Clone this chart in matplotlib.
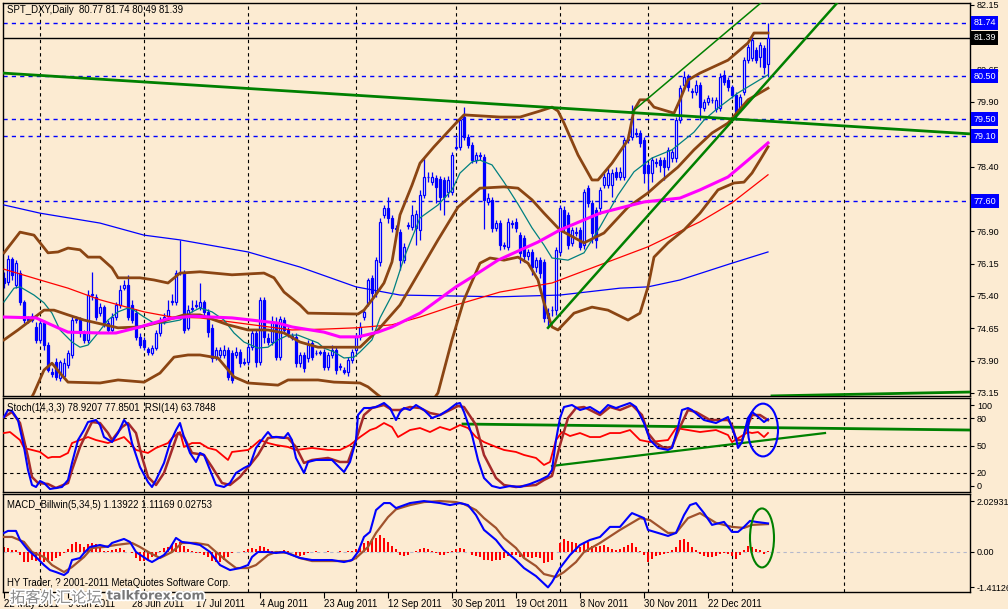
import matplotlib
matplotlib.use('Agg')
import matplotlib.pyplot as plt
import numpy as np
from matplotlib.patches import Ellipse
from matplotlib.transforms import blended_transform_factory
import matplotlib.patheffects as pe

plt.rcParams['font.family'] = ['Liberation Sans', 'DejaVu Sans']

# ---------------- DATA ----------------
opens = [75.82,75.73,76.26,75.66,75.94,75.26,74.87,74.85,74.68,74.38,
         74.78,74.27,73.64,73.87,73.50,73.55,73.80,74.03,74.85,74.85,
         74.54,74.38,75.43,75.38,75.01,75.15,74.78,74.61,74.92,75.19,
         75.59,75.66,75.19,75.01,74.45,74.38,74.17,74.08,74.20,74.54,
         74.80,74.94,75.26,75.26,75.94,75.94,74.66,75.10,75.17,75.15,
         75.26,75.03,74.66,73.99,74.03,74.03,74.15,74.08,74.03,74.10,
         73.87,73.87,74.22,74.54,73.87,75.31,74.43,74.34,74.78,73.99,
         74.85,74.61,74.48,74.45,73.85,74.03,73.96,74.31,74.08,74.10,
         74.10,73.76,74.03,74.15,73.76,73.69,73.64,73.92,74.15,74.45,
         74.92,75.24,75.82,75.47,76.19,77.28,77.44,77.21,76.98,76.89,
         76.24,77.03,77.00,76.98,76.93,77.75,78.16,78.05,78.14,78.12,
         78.09,77.82,77.82,78.84,78.86,79.56,79.09,78.91,78.56,78.67,
         78.63,77.58,77.63,76.98,77.10,76.59,76.54,77.10,77.12,76.82,
         76.75,76.33,76.42,76.08,76.24,76.19,74.89,75.08,75.08,76.42,
         77.40,77.28,76.63,76.86,76.93,76.59,77.91,77.56,77.40,77.44,
         77.98,77.98,77.98,78.28,78.16,78.16,79.02,79.09,79.18,79.18,
         79.02,78.44,78.26,78.51,78.56,78.56,78.40,78.60,78.60,79.49,
         80.30,80.48,80.14,80.14,80.30,79.76,79.90,79.95,79.74,79.76,
         80.53,80.41,80.25,80.07,79.76,80.14,80.88,80.92,81.11,80.94,
         81.16,80.77]
closes = [75.70,76.26,75.89,76.17,75.26,74.85,74.84,74.94,74.38,74.78,
          74.27,73.69,73.59,73.52,73.87,73.85,74.08,74.85,74.87,74.54,
          74.38,75.43,75.45,74.92,75.15,74.78,74.61,74.92,75.19,75.54,
          75.66,74.92,74.85,74.45,74.27,74.22,74.10,74.20,74.54,74.85,
          74.92,75.08,75.28,75.94,75.96,74.61,75.08,75.12,75.19,75.26,
          75.03,74.57,73.96,74.15,74.15,74.15,73.52,73.45,74.10,73.85,
          73.85,74.22,74.54,73.87,75.31,74.45,74.34,74.80,73.99,74.87,
          74.61,74.54,74.43,73.85,74.03,73.73,74.27,73.99,74.08,74.08,
          73.76,74.03,74.15,73.69,73.76,73.64,73.92,74.10,74.45,74.68,
          75.03,75.77,75.47,76.24,77.12,77.44,77.21,76.98,76.96,76.24,
          76.54,77.05,77.28,77.31,77.75,78.16,78.16,78.16,77.93,77.70,
          77.70,78.09,78.67,78.86,79.49,79.09,78.91,78.56,78.67,78.65,
          77.63,77.68,76.98,77.10,76.59,76.56,77.12,77.07,76.98,76.40,
          76.33,76.42,76.08,76.24,75.94,74.89,75.01,75.08,76.47,77.44,
          76.98,76.59,76.93,76.89,76.54,77.82,77.56,76.86,76.70,77.86,
          78.16,78.26,78.26,78.16,78.28,79.02,79.05,79.56,79.16,78.95,
          78.26,78.26,78.56,78.49,78.44,78.40,78.79,78.74,79.49,80.23,
          80.48,80.25,80.14,80.30,79.79,79.90,80.00,79.95,79.95,80.48,
          80.37,80.25,80.07,79.67,80.02,80.88,81.18,81.34,80.88,81.22,
          80.71,81.39]
highs = [75.96,76.35,76.31,76.24,76.01,75.31,74.94,75.01,74.80,74.85,
         74.85,74.34,73.73,73.96,73.92,73.96,74.15,74.94,74.94,74.92,
         74.61,75.54,75.96,75.45,75.24,75.19,74.85,75.01,75.26,75.66,
         75.77,75.89,75.31,75.10,74.54,74.45,74.22,74.27,74.61,74.92,
         75.01,75.31,75.45,76.01,76.70,76.01,75.19,75.31,75.31,75.70,
         75.31,75.10,74.75,74.22,74.22,74.27,74.22,74.15,74.22,74.17,
         73.96,74.31,74.61,74.61,75.38,75.38,74.54,74.94,74.92,74.94,
         74.92,74.68,74.54,74.54,74.10,74.10,74.38,74.38,74.15,74.15,
         74.17,74.10,74.27,74.22,73.85,73.76,73.99,74.17,74.54,74.80,
         75.10,75.82,75.89,76.31,77.21,77.52,77.70,77.28,77.05,76.96,
         76.63,77.12,77.52,77.40,77.86,78.60,78.28,78.28,78.21,78.19,
         78.16,78.19,78.74,79.09,79.56,79.79,79.16,78.98,78.74,78.74,
         78.70,77.79,77.70,77.17,77.17,76.66,77.21,77.17,77.21,76.89,
         76.82,76.49,76.49,76.31,76.31,76.26,75.12,75.17,76.54,77.52,
         77.49,77.35,77.00,77.00,77.00,77.89,77.98,77.63,77.47,77.93,
         78.26,78.40,78.35,78.40,78.40,79.09,79.16,79.83,79.30,79.25,
         79.09,78.51,78.63,78.60,78.63,78.63,78.86,78.81,79.56,80.30,
         80.62,80.55,80.23,80.41,80.37,79.98,80.07,80.02,80.02,80.58,
         80.65,80.48,80.30,80.14,80.09,80.95,81.25,81.41,81.18,81.29,
         81.22,81.74]
lows = [75.59,75.66,75.77,75.59,75.19,74.78,74.78,74.80,74.31,74.31,
        74.15,73.64,73.52,73.45,73.43,73.50,73.73,73.96,74.78,74.45,
        74.31,74.31,75.31,74.85,74.94,74.68,74.54,74.54,74.85,75.12,
        75.54,74.85,74.78,74.38,74.20,74.15,74.03,74.03,74.15,74.48,
        74.75,74.87,75.19,75.19,75.89,74.54,74.61,75.03,75.12,75.08,
        74.94,74.45,73.87,73.92,73.96,73.96,73.45,73.38,73.96,73.76,
        73.80,73.80,74.15,73.76,73.80,74.31,74.27,74.27,73.92,73.92,
        74.54,74.45,74.38,73.76,73.76,73.64,73.87,73.92,74.03,74.03,
        73.69,73.69,73.96,73.59,73.69,73.59,73.55,73.85,74.08,74.38,
        74.85,75.17,74.61,75.38,76.10,77.21,77.10,76.89,76.89,76.01,
        76.17,76.96,76.93,76.59,76.70,77.68,78.05,77.98,77.56,77.40,
        77.28,77.70,77.75,78.79,78.79,79.02,78.84,78.49,78.49,78.56,
        76.96,77.52,76.89,76.91,76.47,76.49,76.47,76.98,76.89,76.17,
        76.19,76.24,75.89,75.96,75.82,74.80,74.68,74.94,74.96,76.35,
        76.89,76.49,76.56,76.79,76.47,76.49,77.47,76.63,76.52,77.30,
        77.91,77.91,77.70,78.09,78.09,78.09,78.95,79.02,79.09,78.86,
        78.02,77.79,78.05,78.40,78.28,78.09,78.33,78.51,78.51,79.42,
        80.23,80.16,80.00,80.07,79.49,79.70,79.83,79.88,79.67,79.70,
        80.30,80.16,80.00,79.49,79.67,80.07,80.81,80.85,80.81,80.71,
        80.55,80.49]

# moving averages (bar index, price)
ma200_x = [0,9,24,35,44,61,74,88,99,124,139,154,161,169,182,191]
ma200_y = [77.51,77.32,77.09,76.81,76.70,76.42,76.07,75.61,75.42,75.38,75.42,75.58,75.61,75.77,76.16,76.42]
ma100_x = [0,9,16,24,35,42,49,72,80,88,97,104,113,124,137,149,161,174,182,191]
ma100_y = [76.02,75.77,75.58,75.31,75.03,74.91,74.89,74.61,74.63,74.66,74.73,74.91,75.19,75.49,75.70,76.12,76.54,77.12,77.56,78.21]
ma50_x = [0,8,13.5,16,24,28,34,41,47,57,68.5,72,80,84,88.5,93.5,97,104,113,117,123.5,133.5,139,149,160,169,174,181,186,191]
ma50_y = [74.91,74.89,74.66,74.56,74.54,74.54,74.68,74.87,74.93,74.89,74.77,74.68,74.56,74.45,74.45,74.56,74.68,75.00,75.61,75.84,76.23,76.65,76.93,77.32,77.58,77.67,77.86,78.16,78.55,78.95]
teal_x = [0,2.5,4,7.5,10,12,14,17,19,21,23.5,26,28.5,31,32.5,35,37.5,40,44,47,
          49,52,55,57.5,60,63.5,66,68.5,71,73.5,76,78.5,80,82.5,85,87.5,89,92,94,97,
          100,104,108.5,112,114,117,119,122,125,128.5,132,135,137,141,145,149,153.5,157.5,162,167,
          172.5,175,178.5,183.5,191]
teal_y = [75.26,75.58,75.61,75.42,75.24,75.00,74.61,74.33,74.21,74.26,74.54,74.84,75.03,75.12,75.07,74.91,74.77,74.77,74.84,75.03,
          75.12,75.03,74.84,74.54,74.33,74.19,74.21,74.38,74.49,74.49,74.40,74.31,74.19,74.10,73.96,73.98,74.10,74.38,74.89,75.42,
          76.28,77.21,77.51,77.86,78.25,78.51,78.55,78.44,78.04,77.53,76.98,76.58,76.28,76.23,76.40,77.00,77.74,78.28,78.60,78.79,
          79.20,79.48,79.76,80.11,80.53]
# Bollinger bands
bbu_x = [0,4,7.5,11,13.5,16,19,21,24,27,28.5,34,37.5,41,44,49,57,65,67.5,70,
         74,76,88.5,90,92.5,95,97,99,102,104,107.5,113,115,124,129,134,137,138.5,140,143.5,
         147,148.5,152,156,157.5,159,161,162.5,167.5,169,171,174,181,186,187.5,191]
bbu_y = [76.40,76.88,76.81,76.40,76.42,76.51,76.47,76.30,76.30,76.05,75.82,75.82,75.77,75.70,75.93,75.96,75.89,75.93,75.82,75.49,
         75.19,75.00,74.98,75.07,75.37,75.70,76.19,77.28,77.97,78.48,78.86,79.41,79.60,79.55,79.55,79.69,79.78,79.69,79.41,78.67,
         78.09,78.09,78.48,79.02,79.71,79.95,79.95,79.78,79.64,79.95,80.41,80.57,80.87,81.27,81.50,81.50]
bbm_x = [0,3.5,10,12.5,16,20,28.5,34,39,45,49,56,61,66,70,74,78.5,89,93.5,99,
         108.5,113.5,119,125,128.5,132,135,139,145,150,156,161,164,168.5,172.5,177,181,186,191]
bbm_y = [74.38,74.61,75.07,75.07,74.96,74.84,74.66,74.68,74.79,74.96,74.96,74.73,74.61,74.61,74.54,74.33,74.21,74.21,74.61,75.19,
         76.70,77.46,77.90,77.93,77.90,77.63,77.32,76.93,76.63,76.86,77.46,77.79,78.04,78.39,78.79,79.18,79.41,79.95,80.22]
bbl_x = [0,4,7.5,10,12,14,16,24,28.5,35,39,42.5,46,49,53.5,57.5,61,68.5,71,78.5,
         82.5,89,91,93.5,97,102,105.5,108.5,112,115,119,121.5,125,128.5,131,133.5,135,137,138.5,142.5,
         147,151,156,159,161,162.5,166,170,174,178.5,182.5,185,187,189,191]
bbl_y = [72.29,72.52,73.15,73.68,73.84,73.61,73.40,73.38,73.45,73.40,73.61,73.98,74.03,74.03,73.96,73.52,73.38,73.33,73.45,73.45,
         73.40,73.38,73.29,73.10,72.87,72.64,72.75,73.15,74.38,75.31,76.16,76.28,76.23,76.30,76.16,75.77,75.24,74.68,74.61,75.00,
         75.14,75.07,74.84,75.00,75.61,76.30,76.63,76.93,77.32,77.86,78.02,78.04,78.25,78.55,78.86]

# trend lines (bar index, price)
tl_long_x, tl_long_y = [-0.25, 241.5], [80.57, 79.16]
tl_chan_lo_x, tl_chan_lo_y = [136, 208.5], [74.66, 82.22]
tl_chan_hi_x, tl_chan_hi_y = [157, 189.5], [79.67, 82.22]
tl_bottom_x, tl_bottom_y = [192, 241.5], [73.08, 73.17]
blue_levels = [81.74, 80.50, 79.50, 79.10, 77.60]
last_price = 81.39
price_ticks = [82.15, 80.65, 79.90, 78.40, 76.90, 76.15, 75.40, 74.65, 73.90, 73.15]

# Stochastic (14,3,3) and RSI(14)
stk_x = [0,1,2,3.5,5,6,7,8,9,10,11.5,13,14.5,16,17,18.5,20,21,23,24,25,27,28.5,30,31,32,34,36,37,38,
         40,41.5,43,44,45,46.5,48,49,50,51.5,53,55,56.5,58,60,61.5,63,65,66,67,68.5,70,71,72,73,75,76,78,79.5,82,
         85,86.5,88,88.5,90,91.5,93,95,96.5,98,
         99,100,101.5,103,105,107,109,111,113,114,115,117,118.5,120,122,124,126.5,129,131.5,134,
         136,137,138,139,140,142,144,146.5,149,
         151,153,156.5,158,160,161.5,163.5,166,167,168.5,169.5,171,172,175,178,181,182,183,183.5,184.5,
         186,187,188,190,191]
stk_y = [81.3,89.0,87.9,78.0,48.4,23.1,6.6,4.4,11.0,8.8,2.2,3.3,4.4,12.1,30.8,56.0,67.0,75.8,78.0,72.5,59.3,53.8,63.7,78.0,72.5,52.7,26.4,9.9,4.4,12.1,
         30.8,52.7,67.0,74.7,59.3,41.8,31.9,41.8,39.6,23.1,6.6,4.4,8.8,19.8,25.3,28.6,47.3,59.3,64.8,59.3,59.3,58.2,63.7,56.0,36.3,19.8,31.9,34.1,34.1,34.1,
         20.9,31.9,56.0,83.5,91.2,91.2,92.3,96.7,91.2,78.0,
         86.8,91.2,89.0,94.5,89.0,80.2,83.5,89.0,95.6,96.7,86.8,61.5,34.1,14.3,5.5,3.3,5.5,4.4,7.7,12.1,
         16.5,23.1,56.0,80.2,92.3,94.5,89.0,92.3,85.7,
         94.5,91.2,96.7,92.3,74.7,56.0,47.3,45.1,47.3,70.3,89.0,91.2,89.0,78.0,74.7,81.3,69.2,58.2,47.3,53.8,
         80.2,86.8,83.5,75.8,78.92]
std_x = [0,2,4,6,7,8.5,11,13,16,17,19,21,22,24,26,27,29.5,31,33,34.5,36,38,40,42,43.5,45,47,50,52,54.5,
         56.5,59,61.5,63.5,66,68,71,73,75,77,81,84,86,88,90,92,95,97,
         99,101.5,104,106.5,109,111.5,113.5,115,118,120,123,125,128,130,133,135,137,139,141,143,145,149,
         151.5,154,157,159.5,161,163,165,167,169,171,173,176.5,181,182,183,184.5,186,187,189,191]
std_y = [81.3,86.8,74.7,37.4,15.4,8.8,7.7,3.3,8.8,23.1,48.4,67.0,75.8,74.7,63.7,56.0,70.3,74.7,63.7,37.4,15.4,6.6,19.8,45.1,63.7,59.3,41.8,39.6,26.4,8.8,
         6.6,15.4,28.6,39.6,58.2,59.3,58.2,48.4,30.8,34.1,36.3,31.9,31.9,56.0,83.5,91.2,94.5,89.0,
         89.0,92.3,91.2,85.7,83.5,89.0,93.4,92.3,72.5,39.6,14.3,6.6,4.4,5.5,6.6,12.1,16.5,50.5,80.2,91.2,92.3,83.5,
         92.3,89.0,94.5,83.5,63.7,52.7,47.3,48.4,70.3,89.0,86.8,78.0,78.0,72.5,56.0,56.0,72.5,83.5,83.5,77.85]
rsi_x = [0,1.5,4,5,7,9,11,12,14,16,17,21,23,26,28,30,31.5,33,36,38,41,42,44,45,47,49,51,53,56,57,
         61,62,64,66,68,71,73,77,81,84,86.5,89,91.5,93,95,97,98.5,
         101.5,104,106.5,109,111.5,114,116,118,120,123,125,128,130,133,135,136.5,138,139.5,141.5,144,146.5,149,
         151.5,154,156.5,159,161.5,166,168,171,174,178,181,182,184,186,187,188.5,190,191]
rsi_y = [63.7,64.8,56.0,47.3,45.1,42.9,36.3,37.4,37.4,41.8,52.7,59.3,56.0,52.7,56.0,59.3,52.7,45.1,41.8,47.3,52.7,58.2,64.8,48.4,52.7,52.7,47.3,45.1,34.1,42.9,
         45.1,48.4,56.0,52.7,50.5,48.4,45.1,47.3,45.1,45.1,50.5,59.3,67.0,69.2,74.7,70.3,59.3,
         67.0,69.2,64.8,70.3,67.0,72.5,69.2,59.3,53.8,48.4,45.1,42.9,39.6,36.3,28.6,31.9,56.0,64.8,60.4,63.7,59.3,59.3,
         63.7,63.7,67.0,56.0,53.8,56.0,69.2,67.0,64.8,67.0,61.5,53.8,59.3,64.8,63.7,64.8,59.3,63.78]
stoch_tl1_x, stoch_tl1_y = [114.75, 241.5], [73.6, 67.0]
stoch_tl2_x, stoch_tl2_y = [137, 205.25], [27.5, 63.7]
stoch_levels = [80, 50, 20]

# MACD_Billwin(5,34,5)
macd_x = [0,1,3,4,6,8,10,11.5,13,15,16,17,19,20,21.5,24,26,27,30,31.5,33,36,37,40,41.5,43,44.5,46.5,49,51.5,
          54,56.5,59,61,62,63.5,66,68,70,72,74,77,82,85,87,88.5,90,91.5,93,95,96.5,98,
          101.5,105,109,111.5,114,116,118,120,123,125,128,130,133,136,137,139,141.5,144,146.5,149,
          151.5,154,156.5,157,160,161,163.5,166,168,170,171.5,173,175,177,180,182,183.5,185,186.5,188,191]
macd_y = [0.76,0.84,0.84,0.48,0.08,-0.20,-0.52,-0.72,-0.80,-0.92,-0.80,-0.32,-0.24,-0.04,0.20,0.28,0.20,0.36,0.52,0.40,
          0.0,-0.32,-0.40,-0.12,0.16,0.56,0.40,0.36,0.28,0.0,-0.52,-0.72,-0.64,-0.52,-0.20,0.0,0.0,-0.04,0.0,-0.12,
          -0.24,-0.32,-0.32,-0.40,-0.32,0.0,0.60,0.80,1.67,1.95,1.95,1.75,
          1.95,2.03,1.95,1.87,1.95,1.87,1.47,0.88,0.48,0.08,-0.32,-0.64,-0.96,-1.41,-1.20,-0.64,-0.12,0.28,0.48,0.60,
          1.00,1.00,1.47,1.55,1.35,0.88,0.76,0.64,0.76,1.47,1.87,1.95,1.55,1.08,1.20,0.80,0.80,1.00,1.24,1.20,1.139]
sig_x = [0,2,5,7,10,12,15,17,20,22,25,28,32,34,36.5,39,42,44.5,48,51,53,56,58,61,63,66,68,71,74,77,82,86.5,88,91,93,96,98,
         99,101.5,105,109,113,115,118,120,123,125,128,130,133,135,138,140,143,145,149,
         154,159,161.5,166,168,171,174,178,182,185,187,191]
sig_y = [0.60,0.60,0.40,0.0,-0.20,-0.52,-0.80,-0.60,-0.20,0.16,0.20,0.28,0.36,0.20,-0.04,-0.24,0.0,0.36,0.36,0.28,
         0.0,-0.40,-0.64,-0.64,-0.52,-0.12,0.0,-0.04,-0.24,-0.36,-0.36,-0.36,-0.24,0.20,0.76,1.39,1.70,
         1.75,1.87,1.99,2.03,1.99,1.91,1.67,1.35,0.96,0.56,0.16,-0.24,-0.56,-0.88,-1.00,-0.80,-0.40,0.0,0.36,
         0.88,1.35,1.27,0.76,0.76,1.35,1.55,1.16,1.00,0.96,1.08,1.112]
hist = [0.20,0.17,0.07,0.07,-0.12,-0.40,-0.40,-0.30,-0.35,-0.30,
        -0.40,-0.40,-0.35,-0.25,-0.15,-0.05,0.10,0.33,0.40,0.30,
        0.20,0.30,0.35,0.30,0.15,0.05,0.05,0.08,0.10,0.15,
        0.08,0.00,-0.05,-0.25,-0.35,-0.35,-0.30,-0.20,-0.10,0.05,
        0.15,0.20,0.30,0.35,0.40,0.25,0.10,0.02,-0.05,-0.05,
        -0.10,-0.20,-0.35,-0.40,-0.40,-0.30,-0.20,-0.05,-0.02,0.00,
        0.02,0.10,0.15,0.10,0.25,0.20,0.10,0.05,-0.05,0.05,
        0.08,0.05,0.00,-0.10,-0.15,-0.10,-0.05,0.00,0.02,0.00,
        0.00,0.02,0.00,-0.02,0.02,0.00,0.02,0.05,0.10,0.20,
        0.35,0.45,0.50,0.55,0.66,0.55,0.40,0.25,0.10,-0.10,
        -0.15,-0.10,0.00,0.05,0.10,0.15,0.10,0.05,-0.05,-0.10,
        -0.10,-0.05,0.05,0.10,0.15,0.10,0.00,-0.10,-0.15,-0.20,
        -0.30,-0.30,-0.35,-0.30,-0.30,-0.25,-0.15,-0.10,-0.10,-0.20,
        -0.25,-0.20,-0.25,-0.20,-0.25,-0.45,-0.40,-0.30,0.00,0.35,
        0.50,0.45,0.40,0.35,0.20,0.40,0.40,0.25,0.20,0.24,
        0.27,0.20,0.13,0.07,0.10,0.20,0.27,0.36,0.20,0.03,
        -0.13,-0.40,-0.27,-0.17,-0.13,-0.09,-0.04,0.07,0.20,0.46,
        0.50,0.40,0.20,0.07,-0.07,-0.17,-0.20,-0.20,-0.17,-0.07,
        -0.03,-0.07,-0.16,-0.27,-0.10,0.07,0.24,0.20,0.10,0.07,
        -0.07,0.03]

date_idx = [0,16,32,48,64,80,96,112,128,144,160,176]
date_labels = ["22 May 2011","9 Jun 2011","28 Jun 2011","17 Jul 2011","4 Aug 2011","23 Aug 2011",
               "12 Sep 2011","30 Sep 2011","19 Oct 2011","8 Nov 2011","30 Nov 2011","22 Dec 2011"]
grid_idx = [9,35,61,88,113,139,161,182,210]

# ---------------- STYLE / LAYOUT ----------------
BG = '#FCEBD2'
FS = 6.9      # label texts
FSY = 6.5     # right-hand scale texts
W, H = 1008, 609
fig = plt.figure(figsize=(W/100, H/100), dpi=100, facecolor=BG)

def rect(x0, y0, x1, y1):
    return [x0/W, 1-y1/H, (x1-x0)/W, (y1-y0)/H]

ax = fig.add_axes(rect(3, 3, 970, 396))
ax2 = fig.add_axes(rect(3, 398, 970, 492))
ax3 = fig.add_axes(rect(3, 494, 970, 592))
XLIM = (-0.25, 241.5)
DASH = (0, (3, 3))
for a in (ax, ax2, ax3):
    a.set_facecolor(BG)
    a.set_xlim(*XLIM)
    for s in a.spines.values():
        s.set_color('black'); s.set_linewidth(1.0)
    a.yaxis.tick_right()
    a.tick_params(axis='y', direction='out', length=3, width=0.8, labelsize=FSY, pad=2, colors='black')
    for g in grid_idx:
        a.axvline(g, color='black', lw=0.8, ls=DASH, zorder=1)
ax.set_xticks([]); ax2.set_xticks([])

# ---- main chart ----
ax.set_ylim(73.078, 82.196)
o = np.array(opens); c = np.array(closes); h = np.array(highs); l = np.array(lows)
idx = np.arange(len(o))
up = c >= o
ax.vlines(idx, l, h, color='#0000FF', lw=0.9, zorder=2)
bw = 0.68
ax.bar(idx[up], np.maximum(c-o, 0.004)[up], bottom=o[up], width=bw, facecolor='white',
       edgecolor='#0000FF', lw=0.9, zorder=2.5)
ax.bar(idx[~up], (c-o)[~up], bottom=o[~up], width=bw, facecolor='#0000FF',
       edgecolor='#0000FF', lw=0.9, zorder=2.5)

for lv in blue_levels:
    ax.axhline(lv, color='#0000FF', lw=1.0, ls=DASH, zorder=1.5)
ax.axhline(last_price, color='black', lw=1.0, zorder=1.5)

BROWN = '#8B4513'
ax.plot(ma200_x, ma200_y, color='#0000FF', lw=0.9, zorder=3)
ax.plot(ma100_x, ma100_y, color='#FF0000', lw=0.9, zorder=3)
ax.plot(teal_x, teal_y, color='#008080', lw=0.9, zorder=3)
ax.plot(ma50_x, ma50_y, color='#FF00FF', lw=2.2, zorder=3.2)
for bx, by in ((bbu_x, bbu_y), (bbm_x, bbm_y), (bbl_x, bbl_y)):
    ax.plot(bx, by, color=BROWN, lw=2.0, zorder=3.1)
ax.plot(tl_long_x, tl_long_y, color='#008000', lw=2.0, zorder=3.3)
ax.plot(tl_chan_lo_x, tl_chan_lo_y, color='#008000', lw=1.8, zorder=3.3)
ax.plot(tl_chan_hi_x, tl_chan_hi_y, color='#008000', lw=1.1, zorder=3.3)
ax.plot(tl_bottom_x, tl_bottom_y, color='#008000', lw=2.0, zorder=3.3, clip_on=True)

ax.set_yticks(price_ticks)
ax.set_yticklabels([f'{p:.2f}' for p in price_ticks])
tr = blended_transform_factory(ax.transAxes, ax.transData)
for lv in blue_levels:
    ax.text(1.0035, lv, f'{lv:.2f}', transform=tr, fontsize=FSY, color='white', va='center', ha='left',
            bbox=dict(boxstyle='square,pad=0.28', fc='#0000FF', ec='none'), zorder=6, clip_on=False)
ax.text(1.0035, last_price, f'{last_price:.2f}', transform=tr, fontsize=FSY, color='white', va='center',
        ha='left', bbox=dict(boxstyle='square,pad=0.28', fc='black', ec='none'), zorder=6, clip_on=False)

# ---- stochastic / RSI ----
ax2.set_ylim(-1.1, 102.2)
for lv in stoch_levels:
    ax2.axhline(lv, color='black', lw=0.8, ls=DASH, zorder=1)
ax2.plot(stoch_tl1_x, stoch_tl1_y, color='#008000', lw=2.0, zorder=3)
ax2.plot(stoch_tl2_x, stoch_tl2_y, color='#008000', lw=1.6, zorder=3)
ax2.plot(rsi_x, rsi_y, color='#FF0000', lw=1.3, zorder=3.1)
ax2.plot(std_x, std_y, color='#A52A2A', lw=1.8, zorder=3.2)
ax2.plot(stk_x, stk_y, color='#0000FF', lw=1.5, zorder=3.3)
ax2.add_patch(Ellipse((189.75, 67.0), 7.5, 58, fill=False, ec='#0000FF', lw=1.5, zorder=4))
ax2.set_yticks([94.5, 80, 50, 20, 5.5])
ax2.set_yticklabels(['100', '80', '50', '20', '0'])

# ---- MACD ----
ax3.set_ylim(-1.594, 2.311)
ax3.axhline(0, color='#B4B8CC', lw=0.8, ls=DASH, zorder=1)
hv = np.array(hist)
ax3.bar(np.arange(len(hv)), hv, width=0.6, color='#FF0000', lw=0, zorder=2)
ax3.plot(sig_x, sig_y, color='#A0522D', lw=1.6, zorder=3)
ax3.plot(macd_x, macd_y, color='#0000FF', lw=1.5, zorder=3.1)
ax3.add_patch(Ellipse((189.5, 0.56), 6, 2.35, fill=False, ec='#008000', lw=1.5, zorder=4))
ax3.set_yticks([2.02931, 0.0, -1.41126])
ax3.set_yticklabels(['2.02931', '0.00', '-1.41126'])
ax3.set_xticks(date_idx)
ax3.set_xticklabels(date_labels)
ax3.tick_params(axis='x', direction='out', length=4, width=0.8, labelsize=FS, pad=1)
for t in ax3.get_xticklabels():
    t.set_ha('left')

# ---- texts ----
fig.text(7/W, 1-10/H, 'SPT_DXY,Daily  80.77 81.74 80.49 81.39', fontsize=FS, va='center', ha='left')
fig.text(7/W, 1-408/H, 'Stoch(14,3,3) 78.9207 77.8501  RSI(14) 63.7848', fontsize=FS, va='center', ha='left',
         zorder=10)
fig.text(7/W, 1-505/H, 'MACD_Billwin(5,34,5) 1.13922 1.11169 0.02753', fontsize=FS, va='center', ha='left',
         zorder=10)
fig.text(7/W, 1-583/H, 'HY Trader, ? 2001-2011 MetaQuotes Software Corp.', fontsize=FS, va='center', ha='left',
         zorder=10)
fig.text(10/W, 1-598/H, '拓客外汇论坛', fontsize=11, color='#8a8a8a', va='center', ha='left',
         family=['Noto Sans CJK SC', 'DejaVu Sans'],
         path_effects=[pe.withStroke(linewidth=2.5, foreground='white')], zorder=20)
fig.text(107/W, 1-596/H, 'talkforex.com', fontsize=9, weight='bold', color='#777777', va='center', ha='left',
         family=['DejaVu Sans'], path_effects=[pe.withStroke(linewidth=2.5, foreground='white')], zorder=20)

fig.savefig('out.png', dpi=100, facecolor=BG)
